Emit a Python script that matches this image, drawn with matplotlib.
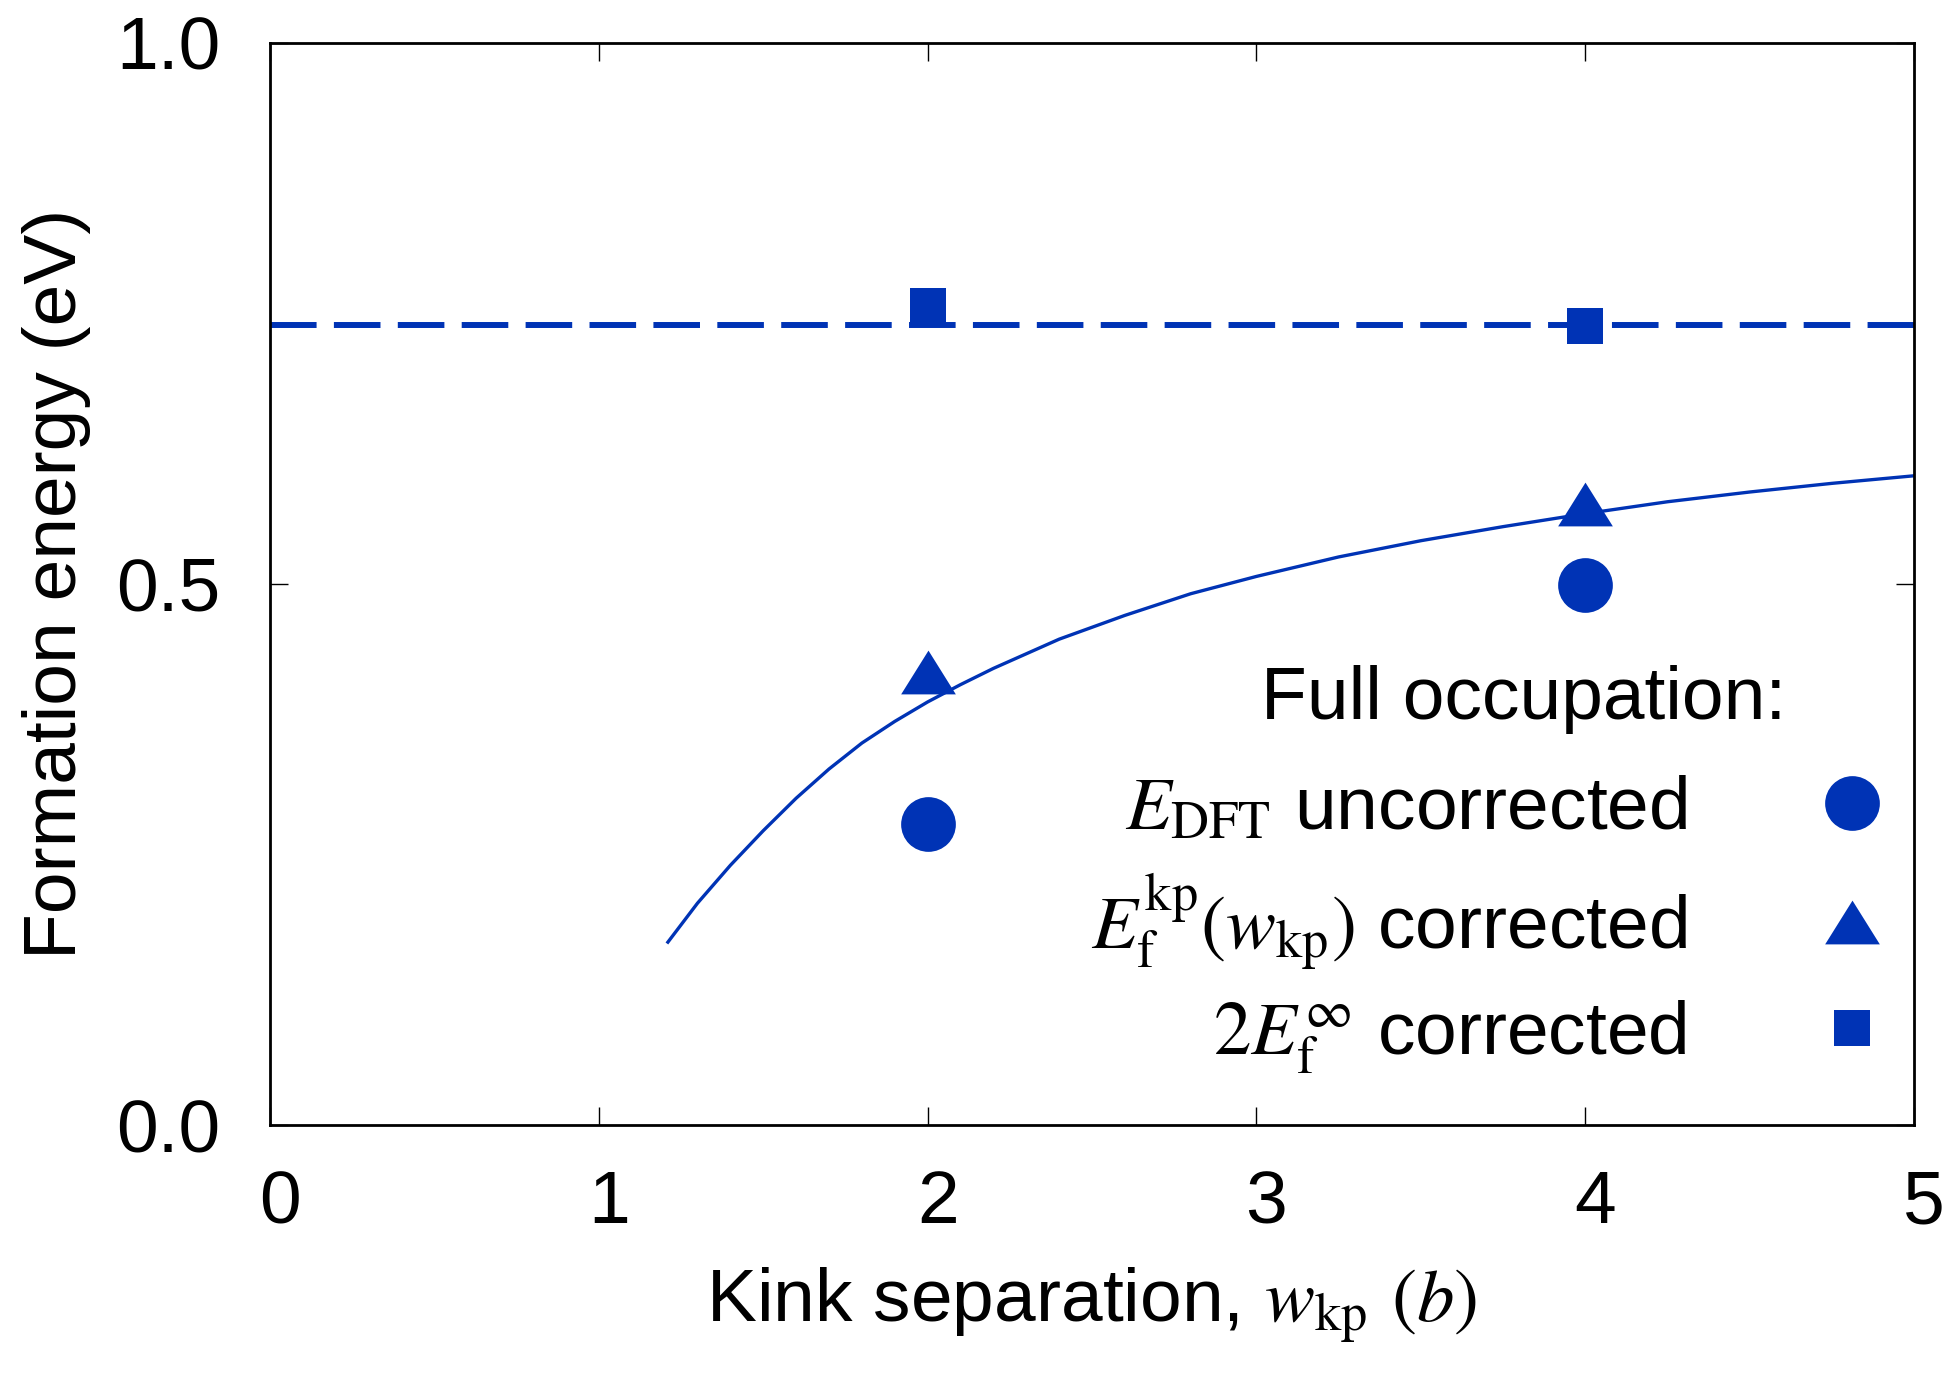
import matplotlib
matplotlib.use("Agg")
import matplotlib.pyplot as plt
import matplotlib.transforms as mtransforms
from matplotlib.path import Path

plt.rcParams['font.family'] = ['Liberation Sans', 'DejaVu Sans']
plt.rcParams['mathtext.fontset'] = 'stix'

blue = '#0033b5'

# data
w_kp = [2, 4]
e_dft = [0.278, 0.499]        # E_DFT uncorrected
e_corr = [0.419, 0.574]       # E_f^kp(w_kp) corrected
e_inf = [0.757, 0.738]        # 2E_f^inf corrected
e_inf_line = 0.739            # dashed reference level

fit_w = [1.21, 1.3, 1.4, 1.5, 1.6, 1.7, 1.8, 1.9, 2.0, 2.1, 2.2, 2.4, 2.6,
         2.8, 3.0, 3.25, 3.5, 3.75, 4.0, 4.25, 4.5, 4.75, 5.0]
fit_e = [0.169, 0.205, 0.240, 0.272, 0.302, 0.329, 0.353, 0.373, 0.391,
         0.407, 0.422, 0.449, 0.471, 0.491, 0.507, 0.525, 0.540, 0.553,
         0.565, 0.576, 0.585, 0.593, 0.600]

x_ticks = [0, 1, 2, 3, 4, 5]
y_ticks = [0.0, 0.5, 1.0]

fig = plt.figure(figsize=(19.51, 13.77), dpi=100)
ax = fig.add_axes([0.1384, 0.1830, 0.8427, 0.7858])

# flat triangle marker (wider than tall)
tri = Path([(0, 0.8), (-1, -0.8), (1, -0.8), (0, 0.8)],
           [Path.MOVETO, Path.LINETO, Path.LINETO, Path.CLOSEPOLY])

ax.axhline(e_inf_line, color=blue, lw=4.3, dashes=(7.8, 2.9))
ax.plot(fit_w, fit_e, color=blue, lw=2.4)

ax.plot(w_kp, e_dft, 'o', color=blue, ms=39.4, mew=0,
        label=r'$E_{\mathrm{DFT}}$ uncorrected')
ax.plot(w_kp, e_corr, marker=tri, ls='none', color=blue, ms=39.4, mew=0,
        label=r'$E_{\mathrm{f}}^{\mathrm{kp}}(w_{\mathrm{kp}})$ corrected')
ax.plot(w_kp, e_inf, 's', color=blue, ms=26.6, mew=0,
        label=r'$2E_{\mathrm{f}}^{\infty}$ corrected')

ax.set_xlim(0, 5)
ax.set_ylim(0, 1)
ax.set_xticks(x_ticks)
ax.set_yticks(y_ticks)
ax.tick_params(direction='in', top=True, right=True, length=13, width=1.0,
               labelsize=54)
ax.tick_params(axis='x', pad=32)
ax.tick_params(axis='y', pad=36)
for s in ax.spines.values():
    s.set_linewidth(2.0)

# gnuplot puts the x labels a little to the right
shift = mtransforms.ScaledTranslation(10 / 100, 0, fig.dpi_scale_trans)
for lab in ax.get_xticklabels():
    lab.set_transform(lab.get_transform() + shift)

ax.set_xlabel(r'Kink separation, $w_{\mathrm{kp}}$ $(b)$', fontsize=54,
              labelpad=20)
ax.set_ylabel('Formation energy (eV)', fontsize=54, labelpad=18)

# key header
ax.text(0.922, 0.375, 'Full occupation:', transform=ax.transAxes,
        ha='right', va='baseline', fontsize=54)
ax.legend(loc='upper right', bbox_to_anchor=(0.985, 0.323), frameon=False,
          markerfirst=False, fontsize=54, handlelength=1, handletextpad=1.7,
          labelspacing=0.35, borderpad=0, borderaxespad=0, numpoints=1)

fig.savefig('out.png', dpi=100)
